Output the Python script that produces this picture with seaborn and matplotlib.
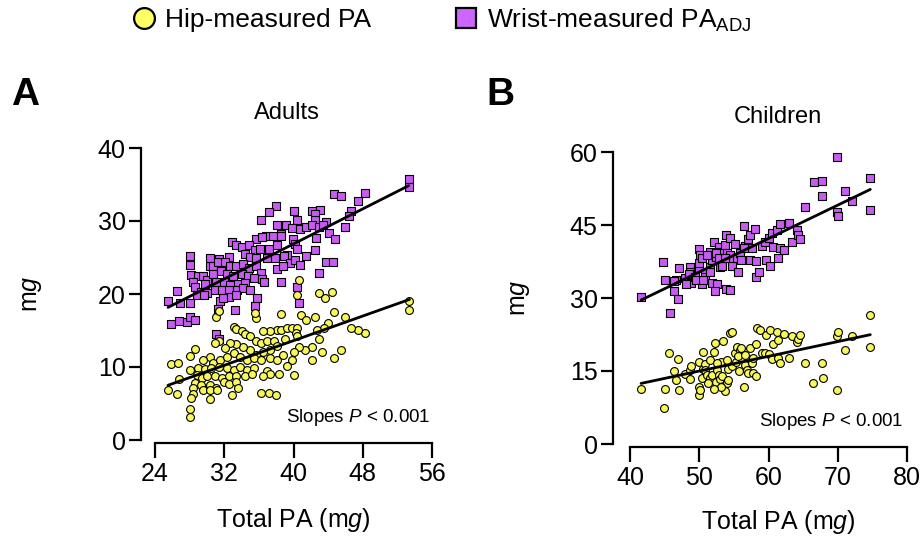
import matplotlib
matplotlib.use("Agg")
import matplotlib.pyplot as plt
from matplotlib.lines import Line2D
import seaborn as sns
import pandas as pd
import numpy as np

# ---------------- data ----------------
adult_wrist_x = [53.3, 53.3, 48.3, 44.7, 45.5, 47.4, 46.6, 46.4, 38.0, 37.2, 40.1, 42.1, 43.1, 42.5, 36.3, 40.4,
                 43.8, 42.5, 38.1, 39.1, 39.8, 40.8, 41.5, 42.1, 42.9, 43.4, 44.1, 44.8, 46.0, 36.8, 37.6, 38.6,
                 35.7, 36.4, 39.9, 40.2, 42.6, 32.9, 33.4, 34.1, 34.9, 35.6, 36.1, 37.2, 38.1, 38.6, 40.4, 39.3,
                 41.4, 42.5, 28.0, 30.4, 31.4, 32.5, 34.4, 35.0, 35.7, 36.9, 37.9, 38.9, 39.6, 40.2, 40.8, 43.7,
                 44.6, 42.9, 28.0, 30.3, 30.7, 31.3, 32.1, 32.7, 33.4, 34.2, 34.9, 35.7, 36.3, 38.1, 38.8, 28.2,
                 29.0, 29.5, 30.0, 30.7, 31.6, 32.3, 33.0, 34.0, 34.7, 35.4, 36.4, 28.4, 28.6, 29.8, 31.0, 32.0,
                 32.7, 33.6, 34.4, 36.6, 38.6, 29.3, 30.0, 30.9, 31.7, 32.5, 33.5, 34.2, 35.0, 26.5, 28.8, 29.7,
                 28.0, 26.9, 25.5, 31.5, 32.6, 33.4, 31.9, 35.8, 35.6, 40.6, 40.4, 31.3, 33.2, 25.9, 26.8, 27.7,
                 28.1, 28.6, 31.1, 31.4]
adult_wrist_y = [35.7, 34.6, 33.9, 33.7, 33.4, 32.7, 31.4, 30.7, 32.0, 31.2, 31.4, 31.4, 31.5, 31.0, 30.2, 30.2,
                 29.9, 30.1, 29.4, 29.4, 29.1, 28.9, 29.2, 29.4, 29.2, 29.5, 28.3, 27.5, 29.2, 28.0, 28.0, 28.2,
                 27.6, 27.8, 27.6, 26.9, 27.7, 27.1, 26.7, 26.5, 26.7, 26.0, 26.2, 26.2, 26.7, 27.9, 26.2, 25.4,
                 25.2, 26.0, 25.2, 25.0, 24.8, 25.1, 25.5, 25.1, 24.9, 24.9, 25.0, 25.2, 24.3, 24.7, 24.0, 24.4,
                 24.4, 22.9, 24.0, 23.8, 23.8, 24.4, 24.4, 23.8, 23.8, 24.1, 23.5, 23.8, 22.9, 23.4, 23.8, 22.6,
                 22.4, 22.5, 21.9, 22.8, 23.1, 22.7, 22.5, 22.8, 22.4, 22.2, 22.1, 21.7, 21.0, 21.4, 21.7, 21.6,
                 21.2, 21.4, 21.5, 21.7, 21.6, 20.3, 20.1, 20.6, 20.5, 20.6, 20.6, 20.8, 20.6, 20.4, 19.9, 19.9,
                 18.7, 18.7, 19.0, 19.0, 19.6, 19.9, 19.4, 19.5, 18.4, 18.8, 20.9, 18.0, 17.8, 15.9, 16.3, 16.2,
                 16.8, 16.4, 14.5, 13.9]

adult_hip_x = [53.3, 53.4, 48.3, 47.4, 46.6, 46.0, 44.7, 45.5, 44.7, 42.9, 44.5, 43.6, 40.6, 40.4, 38.6, 40.9,
               41.4, 42.5, 44.0, 43.5, 42.7, 42.9, 42.1, 43.3, 42.1, 41.3, 40.6, 40.0, 39.8, 40.1, 39.2, 39.0,
               38.1, 38.6, 39.2, 39.8, 40.4, 40.3, 40.4, 37.3, 36.5, 35.7, 35.6, 31.0, 31.4, 33.1, 33.4, 34.0,
               34.4, 35.0, 35.7, 36.3, 36.9, 37.7, 38.1, 37.3, 36.5, 35.7, 35.0, 34.2, 33.4, 32.7, 32.1, 31.4,
               30.9, 30.4, 30.7, 31.5, 32.3, 33.1, 33.8, 34.6, 35.4, 36.3, 37.3, 38.1, 38.8, 28.6, 28.0, 25.9,
               26.7, 29.6, 29.0, 29.8, 30.5, 31.4, 32.3, 33.1, 33.8, 34.6, 35.4, 36.9, 37.3, 38.3, 28.0, 28.8,
               29.4, 30.0, 30.9, 31.7, 32.5, 33.4, 34.4, 35.2, 36.5, 26.8, 28.6, 29.3, 30.4, 31.1, 32.0, 32.6,
               33.4, 29.6, 30.4, 31.2, 28.4, 28.4, 28.2, 30.4, 32.9, 33.6, 25.5, 26.5, 36.3, 37.2, 38.0, 28.0,
               28.0]
adult_hip_y = [19.0, 17.8, 14.7, 15.1, 15.4, 16.9, 17.5, 12.3, 11.3, 20.2, 20.3, 19.5, 21.9, 19.8, 17.3, 17.1,
               16.4, 16.8, 16.0, 15.3, 15.1, 13.9, 12.8, 12.0, 11.0, 12.3, 12.8, 12.1, 11.0, 8.9, 10.1, 13.8,
               15.1, 15.1, 15.3, 15.4, 15.4, 14.7, 14.2, 14.9, 14.9, 16.7, 17.4, 16.8, 17.7, 15.5, 15.2, 15.0,
               14.5, 14.2, 13.6, 13.3, 13.5, 13.5, 12.9, 12.3, 12.0, 11.7, 12.3, 12.8, 13.1, 13.3, 12.6, 13.5,
               13.3, 11.4, 10.6, 11.0, 11.4, 11.9, 11.4, 11.0, 11.2, 11.0, 11.2, 11.0, 11.7, 12.4, 11.5, 10.4,
               10.6, 11.0, 9.8, 9.7, 9.8, 10.0, 9.8, 9.6, 10.0, 9.6, 9.8, 9.4, 9.1, 9.1, 9.6, 8.9,
               8.5, 8.7, 8.7, 8.5, 8.8, 8.7, 8.7, 9.1, 8.8, 8.3, 7.8, 7.5, 7.5, 7.1, 8.0, 7.7,
               7.9, 6.9, 6.9, 6.8, 7.1, 6.3, 5.7, 5.6, 6.2, 7.1, 6.9, 6.3, 6.4, 6.4, 6.2, 4.3,
               3.2]

child_wrist_x = [41.6, 44.8, 45.0, 45.8, 46.3, 47.0, 47.1, 46.7, 48.0, 48.6, 48.6, 48.8, 48.5, 49.4, 49.9, 50.0,
                 50.1, 50.4, 49.9, 50.8, 50.8, 51.5, 51.6, 51.8, 51.9, 51.6, 52.2, 52.4, 52.5, 52.3, 52.8, 53.0,
                 53.3, 53.0, 53.7, 53.9, 54.4, 54.0, 54.4, 54.7, 54.8, 55.2, 55.4, 55.6, 55.9, 56.1, 56.4, 56.6,
                 57.1, 57.3, 57.6, 57.3, 58.1, 58.2, 58.2, 58.7, 59.0, 59.5, 59.7, 60.0, 60.2, 60.5, 60.7, 61.2,
                 61.3, 61.6, 61.6, 62.2, 62.9, 63.4, 64.1, 64.3, 64.6, 65.3, 66.5, 67.7, 67.7, 69.9, 69.9, 70.1,
                 71.1, 72.0, 74.7, 74.7, 53.9, 54.4, 52.4, 52.8, 50.4, 51.1, 49.6, 50.6, 46.3, 48.1, 51.6, 53.7,
                 56.4]
child_wrist_y = [30.3, 37.5, 33.7, 27.0, 31.5, 29.7, 36.2, 33.7, 34.1, 36.4, 35.4, 33.0, 34.9, 34.4, 36.1, 40.0,
                 38.8, 32.9, 37.1, 35.2, 34.4, 36.4, 39.5, 37.8, 33.0, 38.8, 41.6, 38.5, 32.9, 31.4, 40.4, 36.4,
                 36.6, 39.5, 40.9, 43.0, 42.3, 39.2, 38.8, 37.8, 36.6, 41.1, 38.2, 35.4, 39.2, 37.8, 44.8, 40.7,
                 42.1, 43.0, 40.2, 37.8, 44.1, 37.7, 34.4, 35.4, 40.6, 41.6, 37.8, 42.3, 36.6, 43.3, 40.4, 44.0,
                 38.2, 45.2, 40.2, 39.9, 45.4, 41.6, 44.0, 43.0, 42.1, 48.6, 53.9, 54.1, 51.0, 58.9, 47.7, 46.9,
                 51.9, 49.9, 54.7, 48.1, 31.8, 31.7, 39.2, 38.2, 38.2, 38.8, 33.7, 33.7, 33.4, 32.8, 35.4, 38.2,
                 40.2]

child_hip_x = [41.6, 44.9, 45.0, 45.7, 46.3, 46.7, 47.0, 47.1, 48.0, 48.6, 48.6, 48.8, 49.9, 50.0, 50.0, 50.1,
               50.4, 50.5, 50.8, 50.9, 51.1, 51.6, 51.6, 51.8, 52.2, 52.3, 52.4, 52.5, 52.8, 53.0, 53.3, 53.2,
               53.5, 53.7, 54.0, 54.2, 54.4, 54.7, 54.8, 55.2, 55.4, 55.3, 55.7, 55.9, 56.0, 56.1, 56.4, 56.6,
               56.9, 57.1, 57.3, 57.6, 57.7, 57.8, 58.2, 58.2, 58.3, 58.8, 59.0, 59.5, 59.7, 60.0, 60.2, 60.5,
               60.7, 61.2, 61.4, 61.4, 62.2, 61.7, 62.9, 63.4, 64.1, 64.3, 64.5, 65.3, 66.4, 67.7, 67.8, 69.9,
               69.9, 70.1, 71.1, 72.0, 74.7, 74.7, 53.2, 54.2, 51.3, 52.1, 50.6, 52.5, 54.0, 55.6, 56.6]
child_hip_y = [11.4, 7.5, 11.4, 18.8, 15.0, 13.2, 17.4, 11.0, 14.3, 15.2, 13.3, 16.0, 16.9, 11.8, 10.1, 11.0,
               13.5, 15.4, 16.4, 15.2, 14.2, 17.3, 13.5, 14.2, 19.0, 20.8, 12.8, 15.2, 14.2, 13.3, 14.0, 16.9,
               21.2, 10.8, 12.5, 15.4, 22.8, 23.1, 16.0, 18.6, 20.0, 16.9, 14.9, 19.3, 17.6, 19.7, 11.8, 16.2,
               15.2, 14.5, 19.7, 16.7, 17.6, 14.5, 14.0, 20.6, 23.9, 23.4, 18.6, 18.6, 22.4, 18.4, 23.4, 17.4,
               20.6, 23.1, 21.4, 17.6, 22.6, 16.7, 17.6, 22.1, 21.0, 21.5, 22.4, 16.7, 12.5, 16.7, 13.6, 11.0,
               22.1, 23.1, 19.3, 22.2, 26.5, 20.0, 11.8, 13.2, 12.6, 11.2, 19.0, 16.6, 17.3, 18.0, 18.3]

panels = [
    dict(title="Adults", letter="A", xlim=(24, 56), xticks=[24, 32, 40, 48, 56],
         ylim=(0, 40), yticks=[0, 10, 20, 30, 40],
         hip=(adult_hip_x, adult_hip_y), wrist=(adult_wrist_x, adult_wrist_y)),
    dict(title="Children", letter="B", xlim=(40, 80), xticks=[40, 50, 60, 70, 80],
         ylim=(0, 60), yticks=[0, 15, 30, 45, 60],
         hip=(child_hip_x, child_hip_y), wrist=(child_wrist_x, child_wrist_y)),
]

YELLOW = "#F8F85A"
PURPLE = "#C85CF2"

sns.set_theme(style="ticks")
plt.rcParams["font.family"] = ["Liberation Sans", "DejaVu Sans"]
plt.rcParams["mathtext.fontset"] = "custom"
plt.rcParams["mathtext.rm"] = "Liberation Sans"
plt.rcParams["mathtext.it"] = "Liberation Sans:italic"
plt.rcParams["text.color"] = "black"

fig = plt.figure(figsize=(9.24, 5.43), dpi=100)
W, H = 924, 543
# data-area rectangles in pixels: (x_left, y_top, x_right, y_bottom)
rects = [(155, 148, 432, 440), (630, 152, 907, 444)]
yspine_px = [141, 613]
title_px = [(287, 113), (778, 117)]
xlabel_px = [(293, 520), (778, 522)]
ylabel_px = [(32, 294), (520, 298)]
slopes_px = [(430, 418), (903, 422)]

for i, p in enumerate(panels):
    x0, y0, x1, y1 = rects[i]
    ax = fig.add_axes([x0 / W, (H - y1) / H, (x1 - x0) / W, (y1 - y0) / H])
    fx = lambda px: (px - x0) / (x1 - x0)
    fy = lambda py: (y1 - py) / (y1 - y0)
    hx, hy = p["hip"]
    wx, wy = p["wrist"]
    dh = pd.DataFrame({"x": hx, "y": hy})
    dw = pd.DataFrame({"x": wx, "y": wy})
    sns.scatterplot(data=dw, x="x", y="y", ax=ax, marker="s", s=30, color=PURPLE,
                    edgecolor="black", linewidth=0.8, zorder=3)
    sns.scatterplot(data=dh, x="x", y="y", ax=ax, marker="o", s=32, color=YELLOW,
                    edgecolor="black", linewidth=0.8, zorder=3)
    sns.regplot(data=dw, x="x", y="y", ax=ax, scatter=False, ci=None, truncate=True,
                line_kws=dict(color="black", lw=2.0, zorder=4))
    sns.regplot(data=dh, x="x", y="y", ax=ax, scatter=False, ci=None, truncate=True,
                line_kws=dict(color="black", lw=2.0, zorder=4))
    ax.set_xlim(*p["xlim"])
    ax.set_ylim(*p["ylim"])
    ax.set_xticks(p["xticks"])
    ax.set_yticks(p["yticks"])
    ax.spines["top"].set_visible(False)
    ax.spines["right"].set_visible(False)
    ax.spines["left"].set_position(("outward", (x0 - yspine_px[i]) * 0.72))
    ax.spines["bottom"].set_position(("outward", 3 * 0.72))
    ax.spines["left"].set_bounds(*p["ylim"])
    ax.spines["bottom"].set_bounds(*p["xlim"])
    for s in ("left", "bottom"):
        ax.spines[s].set_linewidth(1.6)
        ax.spines[s].set_color("black")
    ax.tick_params(axis="both", which="major", direction="out", width=1.6, color="black",
                   labelsize=18, labelcolor="black")
    ax.tick_params(axis="x", length=11, pad=3)
    ax.tick_params(axis="y", length=9, pad=2)
    ax.set_xlabel("Total PA (m$\\it{g}$)", fontsize=18, color="black")
    ax.xaxis.set_label_coords(fx(xlabel_px[i][0]), fy(xlabel_px[i][1]))
    ax.xaxis.label.set_va("center")
    ax.set_ylabel("m$\\it{g}$", fontsize=18, color="black")
    ax.yaxis.set_label_coords(fx(ylabel_px[i][0]), fy(ylabel_px[i][1]))
    ax.yaxis.label.set_va("center")
    ax.yaxis.label.set_ha("center")
    ax.text(fx(title_px[i][0]), fy(title_px[i][1]), p["title"], transform=ax.transAxes,
            ha="center", va="center", fontsize=17, color="black")
    ax.text(fx(slopes_px[i][0]), fy(slopes_px[i][1]), "Slopes $\\it{P}$ < 0.001",
            transform=ax.transAxes, ha="right", va="center", fontsize=13.5, color="black")
    ax.patch.set_alpha(0)

fig.text(25 / W, 1 - 95 / H, "A", fontsize=28, fontweight="bold", ha="center", va="center",
         color="black")
fig.text(500 / W, 1 - 95 / H, "B", fontsize=28, fontweight="bold", ha="center", va="center",
         color="black")

handles = [
    Line2D([], [], marker="o", linestyle="none", markersize=15, markerfacecolor="#FFFF66",
           markeredgecolor="black", markeredgewidth=1.6, label="Hip-measured PA"),
    Line2D([], [], marker="s", linestyle="none", markersize=15, markerfacecolor="#CC66FF",
           markeredgecolor="black", markeredgewidth=1.6, label="Wrist-measured PA$_\\mathregular{ADJ}$"),
]
leg = fig.legend(handles=handles, loc="center", bbox_to_anchor=(440 / W, 1 - 20 / H), ncol=2,
                 frameon=False, fontsize=19, handletextpad=0.2, columnspacing=3.0,
                 handlelength=1.2)
for t in leg.get_texts():
    t.set_color("black")

fig.savefig("out.png", dpi=100, facecolor="white")
